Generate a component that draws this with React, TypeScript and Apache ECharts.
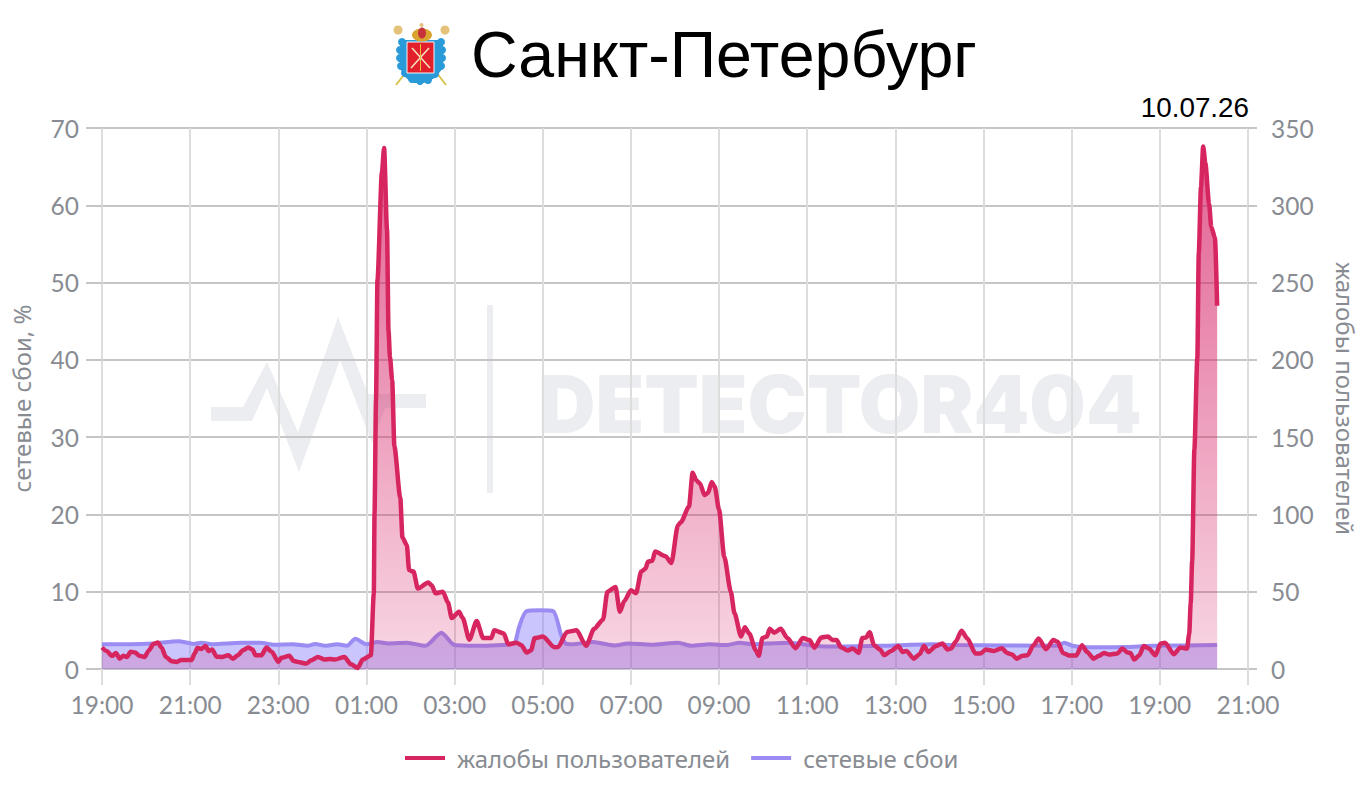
import React, { useEffect, useRef } from "react";
import * as echarts from "echarts";

const titleText = "Санкт-Петербург";
const dateText = "10.07.26";
const watermarkText = "DETECTOR404";
const complaintsName = "жалобы пользователей";
const networkName = "сетевые сбои";
const networkAxisName = "сетевые сбои, %";
const tickLabels = ["19:00","21:00","23:00","01:00","03:00","05:00","07:00","09:00","11:00","13:00","15:00","17:00","19:00","21:00"];

// minutes since the first 19:00
const complaintMinutes = [0,6,14,19,24,29,34,39,45,51,58,64,70,76,81,87,95,101,108,122,126,130,135,141,145,150,156,163,172,178,185,192,199,205,209,217,224,231,240,244,255,261,269,278,285,294,303,310,317,330,339,348,355,366,370,371,373,375,381,384,388,390,392,395,398,406,409,415,418,424,430,444,449,454,464,471,476,486,491,500,510,519,530,534,547,553,564,571,578,584,589,600,616,621,633,646,659,670,682,688,699,705,711,720,727,734,740,743,749,753,767,775,784,788,799,804,809,814,820,825,830,834,840,847,856,861,870,875,881,890,894,899,905,909,915,924,933,944,954,963,970,979,988,995,1000,1006,1015,1022,1030,1035,1040,1045,1051,1059,1065,1074,1084,1090,1095,1105,1113,1119,1125,1135,1144,1151,1156,1162,1170,1178,1189,1196,1203,1214,1225,1232,1239,1245,1253,1260,1268,1275,1285,1295,1301,1308,1317,1326,1334,1341,1350,1357,1364,1371,1382,1389,1396,1400,1405,1412,1418,1425,1434,1441,1447,1459,1468,1477,1480,1482,1484,1487,1491,1493,1496,1499,1502,1507,1510,1515,1518];
const complaintValues = [13.9,11.7,8.5,10.4,6.7,8.5,7.8,11.1,10.7,8.5,7.8,12.2,16.1,17.2,13.9,7.8,5,4.6,5.9,5.9,10,13.7,13,14.8,11.7,12.6,8,7.8,8.9,6.7,8.9,12.2,13.9,12.6,8.9,8.9,13.9,11.1,4.6,7.2,8.5,5.2,4.3,3.5,5.7,7.8,6.1,6.5,6.1,7.8,3,0.7,6.1,8.9,49,101,174,252,321,337,284,219,202,187,144,111,85,80,64,63,52,56,54,49,50,43,33,37,33,19,31,20,20,25,23,16,17,15.4,10.7,12,20,21,14,14.3,24,25,15,26,32,50,53,37,44,51,49,63,65,69.4,70,76,73,68.6,93,95,105,127,122,120,112.6,114,121,118,103,72.7,50,36,21,27,23,12,8.5,20,21,26,23.5,26,20,13.5,20,18.7,13.7,20.4,21,18.7,18.7,14,12,13.3,10.4,20,20.4,23.7,15.4,12.6,9,11.7,14.8,11,11.7,6.7,9.6,14.8,11,14.8,16.5,12.6,13.3,17.6,24.8,19.8,10,10,12.6,11.7,13.5,10.4,9.3,6.7,8.5,8.9,15.4,19.8,12.8,18.7,17.6,10.4,8.7,8.7,15.4,11,6.7,8.5,10.4,9.3,10,13.3,10.7,10.4,6.1,8.9,14.8,13.3,8.9,16.5,17,9.6,13.9,13.3,23,42.6,70,142,201,269,312,338,327,301,286,279,235];

const networkMinutes = [0,40,70,104,125,135,150,190,215,235,260,280,290,305,320,333,345,360,375,390,415,440,462,480,520,545,555,562,568,578,596,614,625,631,640,668,698,716,747,784,802,827,850,868,886,904,936,968,986,1060,1130,1160,1300,1310,1321,1337,1392,1429,1477,1518];
const networkValues = [3.2,3.2,3.3,3.6,3.25,3.4,3.2,3.4,3.4,3.15,3.2,3,3.25,3,3.2,3,3.9,3.2,3.5,3.3,3.4,3,4.7,3.1,3,3.1,3.2,3.4,5.5,7.5,7.6,7.5,4.4,3.3,3.2,3.5,3.05,3.3,3.15,3.4,3,3.2,3.1,3.4,3.2,3.3,3.4,3,2.9,3,3.2,3.1,3,3.4,3,2.8,2.85,3,3.05,3.1];

const zip = (a: number[], b: number[]) => a.map((v, i) => [v, b[i]]);

const AXIS_FONT = "Lato, 'Noto Sans', sans-serif";
const CYR_FONT = "'Noto Sans', sans-serif";
const GREY = "#888c92";
const WM = "#ebedf0";

export default function App() {
  const ref = useRef<HTMLDivElement>(null);
  useEffect(() => {
    document.body.style.margin = "0";
    const chart = echarts.init(ref.current!, undefined, { renderer: "svg" });
    const gold = "#d9a52f";
    const blue = "#2a9bd8";
    const scallops = [[402,42],[400,50],[400,58],[401,66],[405,73],[412,79],[420,81],[428,80],[435,74],[441,66],[442,58],[442,50],[441,42]];
    chart.setOption({
      animation: false,
      backgroundColor: "#ffffff",
      grid: { left: 102, right: 116, top: 128, bottom: 121 },
      legend: {
        left: 400, top: 741,
        data: [complaintsName, networkName],
        icon: "rect", itemWidth: 40, itemHeight: 4, itemGap: 21,
        textStyle: { fontFamily: CYR_FONT, fontSize: 24, color: GREY, padding: [0, 0, 0, 7] },
      },
      xAxis: {
        type: "value", min: 0, max: 1560, interval: 120,
        axisLine: { show: false },
        axisTick: { show: true, length: 16, lineStyle: { color: "#dddddd", width: 2 } },
        axisLabel: { formatter: (v: number) => tickLabels[Math.round(v / 120)], color: GREY, fontSize: 24.5, fontFamily: AXIS_FONT, margin: 23, hideOverlap: false, showMinLabel: true, showMaxLabel: true },
        splitLine: { show: true, lineStyle: { color: "#dddddd", width: 2 } },
      },
      yAxis: [
        {
          type: "value", min: 0, max: 70, interval: 10, position: "left",
          name: networkAxisName, nameLocation: "middle", nameRotate: 90, nameGap: 69,
          nameTextStyle: { fontFamily: CYR_FONT, fontSize: 24, color: GREY },
          axisLine: { show: false },
          axisTick: { show: true, length: 16, lineStyle: { color: "#c6c6c6", width: 2 } },
          axisLabel: { color: GREY, fontSize: 24.5, fontFamily: AXIS_FONT, margin: 23 },
          splitLine: { show: true, lineStyle: { color: "#c6c6c6", width: 2 } },
        },
        {
          type: "value", min: 0, max: 350, interval: 50, position: "right",
          name: complaintsName, nameLocation: "middle", nameRotate: -90, nameGap: 85,
          nameTextStyle: { fontFamily: CYR_FONT, fontSize: 24, color: GREY },
          axisLine: { show: false },
          axisTick: { show: true, length: 9, lineStyle: { color: "#c6c6c6", width: 2 } },
          axisLabel: { color: GREY, fontSize: 24.5, fontFamily: AXIS_FONT, margin: 23 },
          splitLine: { show: false },
        },
      ],
      series: [
        {
          name: networkName, type: "line", yAxisIndex: 0, showSymbol: false, smooth: 0.25, z: 2,
          data: zip(networkMinutes, networkValues),
          lineStyle: { color: "#9a8cf2", width: 4 },
          itemStyle: { color: "#9a8cf2" },
          areaStyle: { color: "rgba(128,118,250,0.6)", origin: "start" },
        },
        {
          name: complaintsName, type: "line", yAxisIndex: 1, showSymbol: false, smooth: 0.25, smoothMonotone: "x", z: 3,
          data: zip(complaintMinutes, complaintValues),
          lineStyle: { color: "#d6255f", width: 4.5 },
          itemStyle: { color: "#d6255f" },
          areaStyle: {
            origin: "start",
            color: new echarts.graphic.LinearGradient(0, 0, 0, 1, [
              { offset: 0, color: "rgba(214,30,100,1)" },
              { offset: 0.6, color: "rgba(214,30,100,0.55)" },
              { offset: 1, color: "rgba(214,30,100,0.25)" },
            ]),
          },
        },
      ],
      graphic: [
        { type: "text", z: 10, style: { x: 471, y: 55, text: titleText, fill: "#000", font: "64.5px 'Liberation Sans', sans-serif", textVerticalAlign: "middle" } },
        { type: "text", z: 10, style: { x: 1249, y: 107, text: dateText, fill: "#000", textAlign: "right", font: "27.8px 'Liberation Sans', sans-serif", textVerticalAlign: "middle" } },
        // watermark
        { type: "polygon", z: -10, shape: { points: [[211,407],[243,407],[267,362],[298,432],[338,317],[368,394],[426,394],[426,408],[385,408],[372,443],[340,360],[299,472],[267,388],[252,421],[211,421]] }, style: { fill: WM } },
        { type: "rect", z: -10, shape: { x: 487, y: 305, width: 6, height: 188 }, style: { fill: WM } },
        { type: "text", z: -10, style: { x: 538, y: 404, text: watermarkText, fill: WM, font: "900 79.5px Inter, Lato, sans-serif", textVerticalAlign: "middle" } },
        // emblem
        { type: "line", z: 9, shape: { x1: 406, y1: 72, x2: 396, y2: 85 }, style: { stroke: "#d8c24a", lineWidth: 2 } },
        { type: "line", z: 9, shape: { x1: 436, y1: 72, x2: 446, y2: 85 }, style: { stroke: "#d8c24a", lineWidth: 2 } },
        { type: "polygon", z: 10, shape: { points: [[400,40],[443,40],[443,68],[435,78],[424,83],[412,83],[404,76],[400,68]] }, style: { fill: blue } },
        ...scallops.map(([cx, cy]) => ({ type: "circle", z: 10, shape: { cx, cy, r: 4 }, style: { fill: blue } })),
        { type: "rect", z: 11, shape: { x: 407, y: 42, width: 27, height: 31 }, style: { fill: "#e2202c", stroke: "#f4f4f4", lineWidth: 1 } },
        { type: "line", z: 12, shape: { x1: 412, y1: 48, x2: 430, y2: 68 }, style: { stroke: "#f4e6c0", lineWidth: 1.5 } },
        { type: "line", z: 12, shape: { x1: 429, y1: 48, x2: 411, y2: 68 }, style: { stroke: "#f4e6c0", lineWidth: 1.5 } },
        { type: "line", z: 12, shape: { x1: 420.5, y1: 44, x2: 420.5, y2: 71 }, style: { stroke: "#e8c040", lineWidth: 1 } },
        { type: "ellipse", z: 11, shape: { cx: 422, cy: 35, rx: 10, ry: 6.5 }, style: { fill: gold } },
        { type: "ellipse", z: 12, shape: { cx: 422, cy: 33, rx: 4, ry: 5.5 }, style: { fill: "#c8323a" } },
        { type: "circle", z: 11, shape: { cx: 421.5, cy: 25, r: 2 }, style: { fill: "#e4c27a" } },
        { type: "circle", z: 11, shape: { cx: 398, cy: 30, r: 4.5 }, style: { fill: "#e4c27a" } },
        { type: "circle", z: 11, shape: { cx: 445, cy: 30, r: 4.5 }, style: { fill: "#e4c27a" } },
      ],
    });
    return () => chart.dispose();
  }, []);
  return <div ref={ref} style={{ position: "fixed", left: 0, top: 0, width: 1365, height: 790 }} />;
}
